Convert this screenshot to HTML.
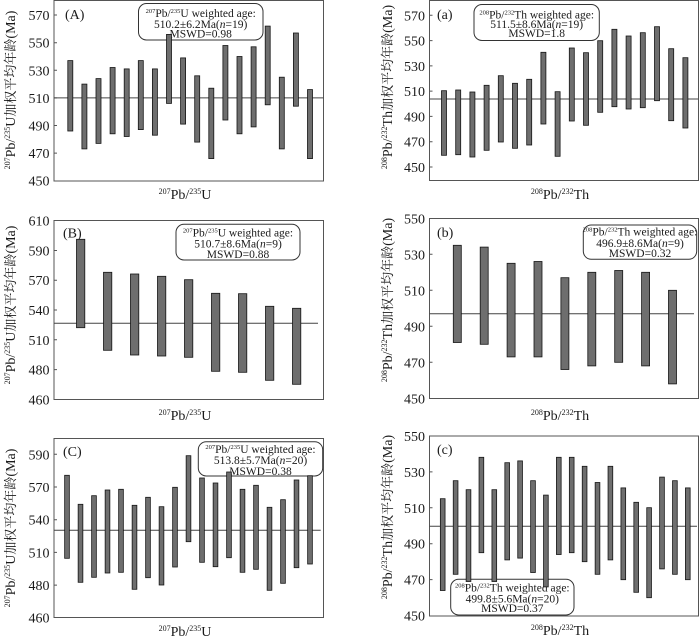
<!DOCTYPE html>
<html><head><meta charset="utf-8"><style>
html,body{margin:0;padding:0;background:#fff;}
svg{display:block;}
text{font-family:"Liberation Serif","Noto Serif CJK SC",serif;fill:#1a1a1a;}
.t{font-size:14px;text-anchor:end;}
.bx{font-family:"Liberation Serif",serif;font-size:11.5px;text-anchor:middle;}
.xl{font-size:14px;text-anchor:middle;}
.yl{font-size:14px;text-anchor:middle;}
.cj{font-family:"Noto Serif CJK SC","Noto Sans CJK SC",serif;font-size:13px;}
.pl{font-size:14px;}
.fr{fill:none;stroke:#555;stroke-width:1;}
.ml{stroke:#444;stroke-width:1;}
.br rect{fill:#6e6e6e;stroke:#151515;stroke-width:0.8;}
.box{fill:none;stroke:#333;stroke-width:1;}
.tk{stroke:#555;stroke-width:1;}
</style></head><body>
<svg width="700" height="640" viewBox="0 0 700 640" xmlns="http://www.w3.org/2000/svg">

<!-- ===== Panel A ===== -->
<rect class="fr" x="54" y="0.5" width="269.5" height="180.5"/>
<g class="t">
<text x="49.5" y="20">570</text><text x="49.5" y="47.7">550</text><text x="49.5" y="75.3">530</text>
<text x="49.5" y="102.9">510</text><text x="49.5" y="130.5">490</text><text x="49.5" y="158.1">470</text><text x="49.5" y="185.7">450</text>
</g>
<path class="tk" d="M54 15h3M54 42.7h3M54 70.3h3M54 97.9h3M54 125.5h3M54 153.1h3"/>
<text class="pl" x="65" y="19">(A)</text>
<rect class="box" x="138.5" y="3.5" width="124.5" height="36.5" rx="8"/>
<text class="bx" x="200.7" y="17"><tspan font-size="6.5" dy="-4">207</tspan><tspan dy="4">Pb/</tspan><tspan font-size="6.5" dy="-4">235</tspan><tspan dy="4">U weighted age:</tspan></text>
<text class="bx" x="200.7" y="28">510.2±6.2Ma(<tspan font-style="italic">n</tspan>=19)</text>
<text class="bx" x="200.7" y="37.5">MSWD=0.98</text>
<line class="ml" x1="54" y1="97.9" x2="323.5" y2="97.9"/>
<g class="br">
<rect x="67.8" y="60.6" width="5" height="70.4"/><rect x="81.9" y="84.1" width="5" height="64.8"/>
<rect x="96" y="78.6" width="5" height="64.8"/><rect x="110.1" y="67.5" width="5" height="66.3"/>
<rect x="124.2" y="68.9" width="5" height="67.6"/><rect x="138.3" y="60.6" width="5" height="69"/>
<rect x="152.4" y="68.9" width="5" height="66.3"/><rect x="166.5" y="34.4" width="5" height="69"/>
<rect x="180.6" y="57.9" width="5" height="66.2"/><rect x="194.7" y="75.8" width="5" height="66.3"/>
<rect x="208.8" y="88.2" width="5" height="70.4"/><rect x="222.9" y="45.5" width="5" height="74.5"/>
<rect x="237" y="56.5" width="5" height="77.3"/><rect x="251.1" y="46.8" width="5" height="80.1"/>
<rect x="265.2" y="26.1" width="5" height="78.7"/><rect x="279.3" y="77.2" width="5" height="71.7"/>
<rect x="293.4" y="33" width="5" height="73.2"/><rect x="307.5" y="89.6" width="5" height="69"/>
</g>
<text class="yl" transform="translate(15,90) rotate(-90)"><tspan font-size="8" dy="-5">207</tspan><tspan dy="5">Pb/</tspan><tspan font-size="8" dy="-5">235</tspan><tspan dy="5">U</tspan><tspan class="cj">加权平均年龄</tspan>(Ma)</text>
<text class="xl" x="185" y="199"><tspan font-size="8" dy="-5">207</tspan><tspan dy="5">Pb/</tspan><tspan font-size="8" dy="-5">235</tspan><tspan dy="5">U</tspan></text>

<!-- ===== Panel a ===== -->
<rect class="fr" x="429.5" y="0.5" width="269" height="180"/>
<g class="t">
<text x="425" y="20.3">570</text><text x="425" y="45.6">550</text><text x="425" y="70.9">530</text>
<text x="425" y="96.1">510</text><text x="425" y="121.4">490</text><text x="425" y="146.7">470</text><text x="425" y="172">450</text>
</g>
<path class="tk" d="M429.5 15.3h3M429.5 40.6h3M429.5 65.9h3M429.5 91.1h3M429.5 116.4h3M429.5 141.7h3M429.5 167h3"/>
<text class="pl" x="437" y="19">(a)</text>
<rect class="box" x="474" y="4.5" width="125.3" height="36" rx="8"/>
<text class="bx" x="536.7" y="18.5"><tspan font-size="6.5" dy="-4">208</tspan><tspan dy="4">Pb/</tspan><tspan font-size="6.5" dy="-4">232</tspan><tspan dy="4">Th weighted age:</tspan></text>
<text class="bx" x="536.7" y="28">511.5±8.6Ma(<tspan font-style="italic">n</tspan>=19)</text>
<text class="bx" x="536.7" y="37">MSWD=1.8</text>
<line class="ml" x1="429.5" y1="99" x2="698.5" y2="99"/>
<g class="br">
<rect x="441.5" y="90.7" width="5" height="64.6"/><rect x="455.7" y="90" width="5" height="64.7"/>
<rect x="469.9" y="92" width="5" height="65"/><rect x="484.1" y="85.3" width="5" height="65"/>
<rect x="498.3" y="75.7" width="5" height="66.3"/><rect x="512.5" y="83.3" width="5" height="65"/>
<rect x="526.7" y="79.3" width="5" height="65.7"/><rect x="540.9" y="52.3" width="5" height="71.7"/>
<rect x="555.1" y="91.7" width="5" height="64.6"/><rect x="569.3" y="48" width="5" height="73"/>
<rect x="583.5" y="52.7" width="5" height="72.6"/><rect x="597.7" y="40.7" width="5" height="71.6"/>
<rect x="611.9" y="29.3" width="5" height="77.4"/><rect x="626.1" y="36" width="5" height="73"/>
<rect x="640.3" y="32.7" width="5" height="75"/><rect x="654.5" y="26.7" width="5" height="74"/>
<rect x="668.7" y="48.7" width="5" height="72"/><rect x="682.9" y="57.7" width="5" height="70.3"/>
</g>
<text class="yl" transform="translate(392,87) rotate(-90)"><tspan font-size="8" dy="-5">208</tspan><tspan dy="5">Pb/</tspan><tspan font-size="8" dy="-5">232</tspan><tspan dy="5">Th</tspan><tspan class="cj">加权平均年龄</tspan>(Ma)</text>
<text class="xl" x="560" y="199"><tspan font-size="8" dy="-5">208</tspan><tspan dy="5">Pb/</tspan><tspan font-size="8" dy="-5">232</tspan><tspan dy="5">Th</tspan></text>

<!-- ===== Panel B ===== -->
<rect class="fr" x="54" y="220.5" width="269.5" height="179"/>
<g class="t">
<text x="49.5" y="225.7">610</text><text x="49.5" y="255.5">590</text><text x="49.5" y="285.2">570</text>
<text x="49.5" y="315">540</text><text x="49.5" y="344.8">510</text><text x="49.5" y="374.6">480</text><text x="49.5" y="404.3">460</text>
</g>
<path class="tk" d="M54 250.5h3M54 280.2h3M54 310h3M54 339.8h3M54 369.6h3"/>
<text class="pl" x="63" y="237.5">(B)</text>
<rect class="box" x="176" y="224.3" width="124" height="35.7" rx="8"/>
<text class="bx" x="238" y="236.5"><tspan font-size="6.5" dy="-4">207</tspan><tspan dy="4">Pb/</tspan><tspan font-size="6.5" dy="-4">235</tspan><tspan dy="4">U weighted age:</tspan></text>
<text class="bx" x="238" y="247.5">510.7±8.6Ma(<tspan font-style="italic">n</tspan>=9)</text>
<text class="bx" x="238" y="258">MSWD=0.88</text>
<line class="ml" x1="54" y1="323.3" x2="318" y2="323.3"/>
<g class="br">
<rect x="76.5" y="239.3" width="8.3" height="88.4"/><rect x="103.5" y="272.3" width="8.3" height="78"/>
<rect x="130.5" y="274" width="8.3" height="81"/><rect x="157.5" y="276.3" width="8.3" height="79.7"/>
<rect x="184.5" y="279.7" width="8.3" height="77.6"/><rect x="211.5" y="293.3" width="8.3" height="78"/>
<rect x="238.5" y="293.7" width="8.3" height="78.6"/><rect x="265.5" y="306.3" width="8.3" height="74"/>
<rect x="292.5" y="308.3" width="8.3" height="76"/>
</g>
<text class="yl" transform="translate(15,305) rotate(-90)"><tspan font-size="8" dy="-5">207</tspan><tspan dy="5">Pb/</tspan><tspan font-size="8" dy="-5">235</tspan><tspan dy="5">U</tspan><tspan class="cj">加权平均年龄</tspan>(Ma)</text>
<text class="xl" x="185" y="420"><tspan font-size="8" dy="-5">207</tspan><tspan dy="5">Pb/</tspan><tspan font-size="8" dy="-5">235</tspan><tspan dy="5">U</tspan></text>

<!-- ===== Panel b ===== -->
<rect class="fr" x="429.5" y="218.5" width="269" height="180"/>
<g class="t">
<text x="425" y="223.3">550</text><text x="425" y="259.3">530</text><text x="425" y="295.3">510</text>
<text x="425" y="331.3">490</text><text x="425" y="367.3">470</text><text x="425" y="403.3">450</text>
</g>
<path class="tk" d="M429.5 254.3h3M429.5 290.3h3M429.5 326.3h3M429.5 362.3h3"/>
<text class="pl" x="437" y="237">(b)</text>
<rect class="box" x="583.3" y="225" width="113.4" height="34.3" rx="8"/>
<text class="bx" x="640" y="235.5"><tspan font-size="6.5" dy="-4">208</tspan><tspan dy="4">Pb/</tspan><tspan font-size="6.5" dy="-4">232</tspan><tspan dy="4">Th weighted age:</tspan></text>
<text class="bx" x="640" y="247">496.9±8.6Ma(<tspan font-style="italic">n</tspan>=9)</text>
<text class="bx" x="640" y="257">MSWD=0.32</text>
<line class="ml" x1="429.5" y1="313.7" x2="694" y2="313.7"/>
<g class="br">
<rect x="453.3" y="245.3" width="8" height="97.2"/><rect x="480.2" y="247.1" width="8" height="97.2"/>
<rect x="507.1" y="263.3" width="8" height="93.6"/><rect x="534" y="261.5" width="8" height="95.4"/>
<rect x="560.9" y="277.7" width="8" height="91.8"/><rect x="587.8" y="272.3" width="8" height="93.6"/>
<rect x="614.7" y="270.5" width="8" height="91.8"/><rect x="641.6" y="272.3" width="8" height="93.6"/>
<rect x="668.5" y="290.3" width="8" height="93.6"/>
</g>
<text class="yl" transform="translate(392,300) rotate(-90)"><tspan font-size="8" dy="-5">208</tspan><tspan dy="5">Pb/</tspan><tspan font-size="8" dy="-5">232</tspan><tspan dy="5">Th</tspan><tspan class="cj">加权平均年龄</tspan>(Ma)</text>
<text class="xl" x="560" y="420"><tspan font-size="8" dy="-5">208</tspan><tspan dy="5">Pb/</tspan><tspan font-size="8" dy="-5">232</tspan><tspan dy="5">Th</tspan></text>

<!-- ===== Panel C ===== -->
<rect class="fr" x="54" y="438.5" width="269.5" height="179"/>
<g class="t">
<text x="49.5" y="459.3">590</text><text x="49.5" y="492">570</text><text x="49.5" y="524.7">540</text>
<text x="49.5" y="557.4">510</text><text x="49.5" y="590.1">480</text><text x="49.5" y="622.7">460</text>
</g>
<path class="tk" d="M54 454.3h3M54 487h3M54 519.7h3M54 552.4h3M54 585.1h3"/>
<text class="pl" x="63" y="456">(C)</text>
<rect class="box" x="198.3" y="441.7" width="124.4" height="34.3" rx="8"/>
<text class="bx" x="260.5" y="453"><tspan font-size="6.5" dy="-4">207</tspan><tspan dy="4">Pb/</tspan><tspan font-size="6.5" dy="-4">235</tspan><tspan dy="4">U weighted age:</tspan></text>
<text class="bx" x="260.5" y="464">513.8±5.7Ma(<tspan font-style="italic">n</tspan>=20)</text>
<text class="bx" x="260.5" y="475">MSWD=0.38</text>
<line class="ml" x1="54" y1="530.3" x2="320.7" y2="530.3"/>
<g class="br">
<rect x="64.65" y="475.3" width="4.7" height="83"/><rect x="78.15" y="504.3" width="4.7" height="78"/>
<rect x="91.65" y="495.7" width="4.7" height="81.6"/><rect x="105.15" y="490" width="4.7" height="83"/>
<rect x="118.65" y="489.3" width="4.7" height="83"/><rect x="132.15" y="505.3" width="4.7" height="84"/>
<rect x="145.65" y="497.3" width="4.7" height="80.4"/><rect x="159.15" y="506.7" width="4.7" height="78.3"/>
<rect x="172.65" y="487.3" width="4.7" height="79.7"/><rect x="186.15" y="455.7" width="4.7" height="86"/>
<rect x="199.65" y="478" width="4.7" height="84.3"/><rect x="213.15" y="483" width="4.7" height="83.7"/>
<rect x="226.65" y="472" width="4.7" height="85.7"/><rect x="240.15" y="489.3" width="4.7" height="83"/>
<rect x="253.65" y="485.3" width="4.7" height="84"/><rect x="267.15" y="507.3" width="4.7" height="83"/>
<rect x="280.65" y="499.7" width="4.7" height="83.6"/><rect x="294.15" y="480" width="4.7" height="87.7"/>
<rect x="307.65" y="475.7" width="4.7" height="88.3"/>
</g>
<text class="yl" transform="translate(15,528) rotate(-90)"><tspan font-size="8" dy="-5">207</tspan><tspan dy="5">Pb/</tspan><tspan font-size="8" dy="-5">235</tspan><tspan dy="5">U</tspan><tspan class="cj">加权平均年龄</tspan>(Ma)</text>
<text class="xl" x="185" y="636"><tspan font-size="8" dy="-5">207</tspan><tspan dy="5">Pb/</tspan><tspan font-size="8" dy="-5">235</tspan><tspan dy="5">U</tspan></text>

<!-- ===== Panel c ===== -->
<rect class="fr" x="429.5" y="436" width="269" height="180"/>
<g class="t">
<text x="425" y="441">550</text><text x="425" y="476.9">530</text><text x="425" y="512.8">510</text>
<text x="425" y="548.7">490</text><text x="425" y="584.6">470</text><text x="425" y="620.7">450</text>
</g>
<path class="tk" d="M429.5 471.9h3M429.5 507.8h3M429.5 543.7h3M429.5 579.6h3"/>
<text class="pl" x="437" y="454">(c)</text>
<rect class="box" x="450.7" y="579.3" width="123.3" height="35.7" rx="8"/>
<text class="bx" x="512.3" y="591.5"><tspan font-size="6.5" dy="-4">208</tspan><tspan dy="4">Pb/</tspan><tspan font-size="6.5" dy="-4">232</tspan><tspan dy="4">Th weighted age:</tspan></text>
<text class="bx" x="512.3" y="602.5">499.8±5.6Ma(<tspan font-style="italic">n</tspan>=20)</text>
<text class="bx" x="512.3" y="612">MSWD=0.37</text>
<line class="ml" x1="429.5" y1="526.3" x2="697" y2="526.3"/>
<g class="br">
<rect x="440.35" y="498.7" width="4.7" height="91.8"/><rect x="453.25" y="480.7" width="4.7" height="93.6"/>
<rect x="466.15" y="489.7" width="4.7" height="91.8"/><rect x="479.05" y="457.3" width="4.7" height="95.4"/>
<rect x="491.95" y="489.7" width="4.7" height="91.8"/><rect x="504.85" y="462.7" width="4.7" height="97.2"/>
<rect x="517.75" y="460.9" width="4.7" height="97.2"/><rect x="530.65" y="480.7" width="4.7" height="91.8"/>
<rect x="543.55" y="495.1" width="4.7" height="91.8"/><rect x="556.45" y="457.3" width="4.7" height="97.2"/>
<rect x="569.35" y="457.3" width="4.7" height="95.4"/><rect x="582.25" y="466.3" width="4.7" height="95.4"/>
<rect x="595.15" y="482.5" width="4.7" height="91.8"/><rect x="608.05" y="466.3" width="4.7" height="93.6"/>
<rect x="620.95" y="487.9" width="4.7" height="91.8"/><rect x="633.85" y="502.3" width="4.7" height="90"/>
<rect x="646.75" y="507.7" width="4.7" height="90"/><rect x="659.65" y="477.1" width="4.7" height="91.8"/>
<rect x="672.55" y="480.7" width="4.7" height="93.6"/><rect x="685.45" y="487.9" width="4.7" height="91.8"/>
</g>
<text class="yl" transform="translate(392,517) rotate(-90)"><tspan font-size="8" dy="-5">208</tspan><tspan dy="5">Pb/</tspan><tspan font-size="8" dy="-5">232</tspan><tspan dy="5">Th</tspan><tspan class="cj">加权平均年龄</tspan>(Ma)</text>
<text class="xl" x="560" y="635"><tspan font-size="8" dy="-5">208</tspan><tspan dy="5">Pb/</tspan><tspan font-size="8" dy="-5">232</tspan><tspan dy="5">Th</tspan></text>

</svg>
</body></html>
